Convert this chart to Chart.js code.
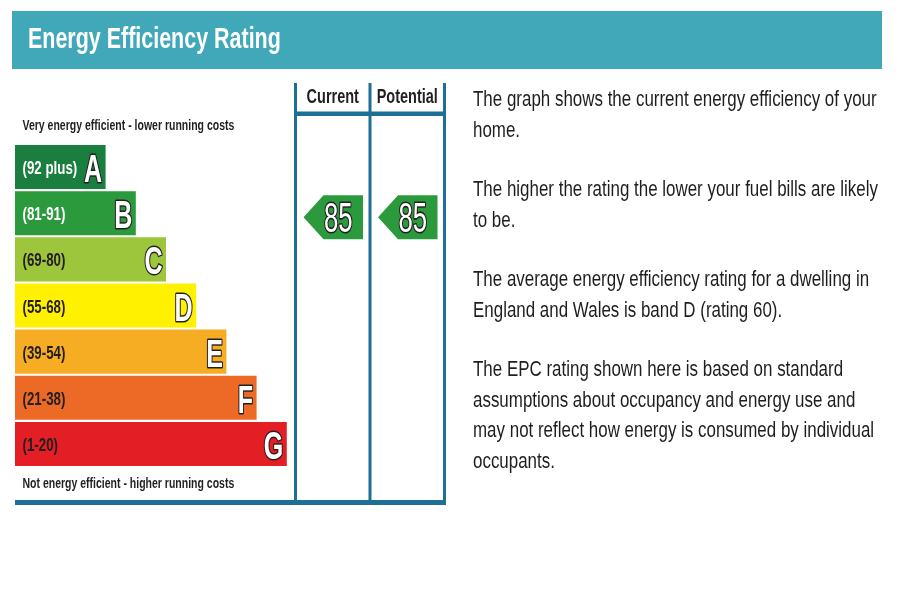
<!DOCTYPE html>
<html>
<head>
<meta charset="utf-8">
<title>Energy Efficiency Rating</title>
<script src="https://cdn.jsdelivr.net/npm/chart.js@4.4.1/dist/chart.umd.min.js"></script>
<style>
  html, body { margin: 0; padding: 0; background: #fff; }
  canvas { display: block; }
</style>
</head>
<body>
<canvas id="epcChart" width="900" height="600"></canvas>
<script>
// bands, best (top) to worst (bottom)
const bandLetters = ["A", "B", "C", "D", "E", "F", "G"];
const bandRanges = ["(92 plus)", "(81-91)", "(69-80)", "(55-68)", "(39-54)", "(21-38)", "(1-20)"];
const bandMin = [92, 81, 69, 55, 39, 21, 1];
// relative bar length of each band in the graphic
const bandLength = [3, 4, 5, 6, 7, 8, 9];

// ratings shown in the two columns
const columnTitles = ["Current", "Potential"];
const columnRatings = [85, 85];

const topCaption = "Very energy efficient - lower running costs";
const bottomCaption = "Not energy efficient - higher running costs";

const notes = [
  ["The graph shows the current energy efficiency of your", "home."],
  ["The higher the rating the lower your fuel bills are likely", "to be."],
  ["The average energy efficiency rating for a dwelling in", "England and Wales is band D (rating 60)."],
  ["The EPC rating shown here is based on standard", "assumptions about occupancy and energy use and",
   "may not reflect how energy is consumed by individual", "occupants."]
];

const bandColors = ["#1a7f3e", "#2b9a3d", "#9dc63d", "#fff100", "#f6ad24", "#ec6a26", "#e31e25"];
const bandTextColors = ["#ffffff", "#ffffff", "#231f20", "#231f20", "#231f20", "#231f20", "#231f20"];
const teal = "#40a8b9";
const frameBlue = "#1d6f97";
const FONT = "'Liberation Sans', Arial, sans-serif";

// the original uses a narrow face, so squeeze Liberation Sans sideways
function narrowText(ctx, str, x, y, o) {
  ctx.save();
  ctx.font = o.font;
  ctx.textAlign = o.align || "left";
  ctx.textBaseline = "alphabetic";
  ctx.translate(x, y);
  ctx.scale(o.squeeze, 1);
  if (o.stroke) {
    ctx.lineJoin = "round";
    ctx.lineWidth = o.lineWidth;
    ctx.strokeStyle = o.stroke;
    ctx.strokeText(str, 0, 0);
  }
  ctx.fillStyle = o.color;
  ctx.fillText(str, 0, 0);
  ctx.restore();
}

function bandOf(rating) {
  return bandMin.findIndex(m => rating >= m);
}

// column edges of the Current / Potential frame
const cols = [295.5, 370, 444.5];

const epcDecor = {
  id: "epcDecor",
  beforeDatasetsDraw(chart) {
    const ctx = chart.ctx;

    // title strip
    ctx.fillStyle = teal;
    ctx.fillRect(12, 11, 870, 58);
    narrowText(ctx, "Energy Efficiency Rating", 28, 48,
      { font: "bold 29px " + FONT, squeeze: 0.74, color: "#ffffff" });

    // captions above and below the bars
    narrowText(ctx, topCaption, 22.5, 130, { font: "bold 15px " + FONT, squeeze: 0.7, color: "#231f20" });
    narrowText(ctx, bottomCaption, 22.5, 488, { font: "bold 15px " + FONT, squeeze: 0.7, color: "#231f20" });

    // frame
    ctx.fillStyle = frameBlue;
    cols.forEach(x => ctx.fillRect(x - 1.5, 83, 3, 421));
    ctx.fillRect(294, 111.5, 152, 4.5);
    ctx.fillRect(15, 500, 431, 5);

    columnTitles.forEach((t, i) => {
      narrowText(ctx, t, (cols[i] + cols[i + 1]) / 2, 103,
        { font: "bold 21px " + FONT, squeeze: 0.69, color: "#231f20", align: "center" });
    });

    // explanatory notes
    let y = 106;
    notes.forEach(par => {
      par.forEach((line, j) => {
        narrowText(ctx, line, 473, y + j * 30.5, { font: "22px " + FONT, squeeze: 0.77, color: "#1e1e1e" });
      });
      y += 90;
    });
  },
  afterDatasetsDraw(chart) {
    const ctx = chart.ctx;
    const yScale = chart.scales.y;
    const meta = chart.getDatasetMeta(0);

    meta.data.forEach((bar, i) => {
      const p = bar.getProps(["x", "y"], true);
      narrowText(ctx, bandRanges[i], 22.5, p.y + 7,
        { font: "bold 18px " + FONT, squeeze: 0.74, color: bandTextColors[i] });
      narrowText(ctx, bandLetters[i], p.x - 3.5, p.y + 15,
        { font: "bold 38px " + FONT, squeeze: 0.66, color: "#ffffff", stroke: "#231f20", lineWidth: 3, align: "right" });
    });

    // rating arrows
    columnRatings.forEach((rating, i) => {
      const b = bandOf(rating);
      const cy = yScale.getPixelForValue(b) + 4;
      const tip = cols[i] + 8;
      const right = cols[i + 1] - 7;
      const h = 44;
      ctx.fillStyle = bandColors[b];
      ctx.beginPath();
      ctx.moveTo(tip, cy);
      ctx.lineTo(tip + 20, cy - h / 2);
      ctx.lineTo(right, cy - h / 2);
      ctx.lineTo(right, cy + h / 2);
      ctx.lineTo(tip + 20, cy + h / 2);
      ctx.closePath();
      ctx.fill();
      narrowText(ctx, String(rating), (tip + 20 + right) / 2 - 5, cy + 15,
        { font: "43px " + FONT, squeeze: 0.6, color: "#ffffff", stroke: "#231f20", lineWidth: 3.2, align: "center" });
    });
  }
};

new Chart(document.getElementById("epcChart"), {
  type: "bar",
  data: {
    labels: bandLetters,
    datasets: [{
      data: bandLength,
      backgroundColor: bandColors,
      borderWidth: 0,
      barPercentage: 0.955,
      categoryPercentage: 1
    }]
  },
  options: {
    indexAxis: "y",
    responsive: false,
    animation: false,
    layout: { padding: { left: 15, right: 583, top: 144, bottom: 133 } },
    scales: {
      x: { display: false, min: 0, max: 10 },
      y: { display: false }
    },
    plugins: {
      legend: { display: false },
      tooltip: { enabled: false }
    }
  },
  plugins: [epcDecor]
});
</script>
</body>
</html>
